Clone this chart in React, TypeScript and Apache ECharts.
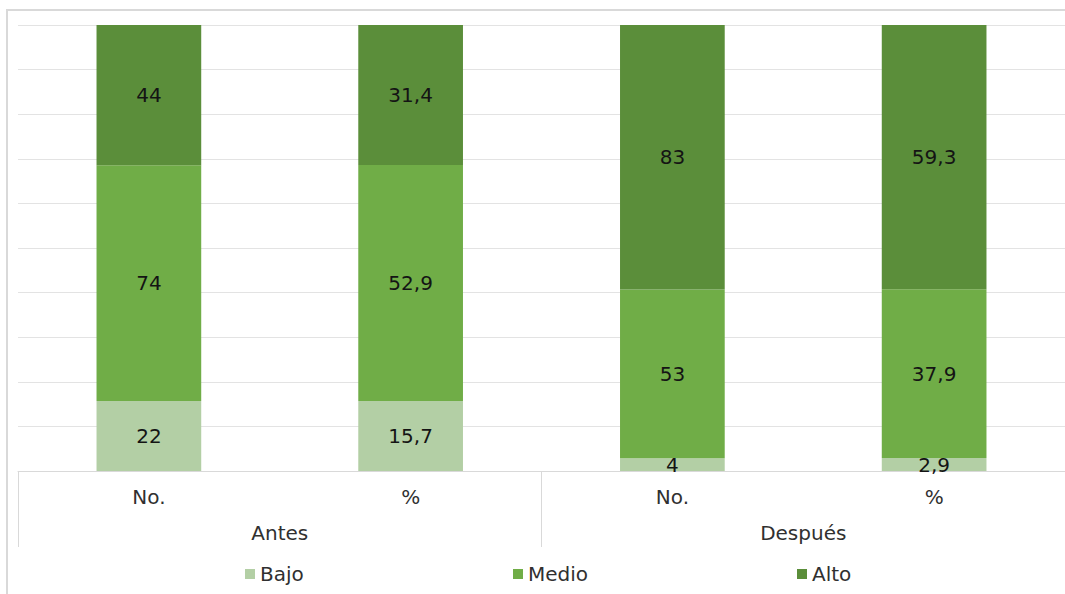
import React, { useEffect, useRef } from "react";
import * as echarts from "echarts";

const categories = ["No.", "%", "No.", "%"];
const groups = ["Antes", "Después"];
const bajo = [22, 15.7, 4, 2.9];
const medio = [74, 52.9, 53, 37.9];
const alto = [44, 31.4, 83, 59.3];
const seriesNames = ["Bajo", "Medio", "Alto"];
const colors = ["#b3cfa5", "#70ad47", "#5b8e3a"];

const FONT = "DejaVu Sans, Verdana, sans-serif";

export default function App() {
  const ref = useRef<HTMLDivElement>(null);
  useEffect(() => {
    if (!ref.current) return;
    const chart = echarts.init(ref.current, undefined, { renderer: "svg" });
    const raw = [bajo, medio, alto];
    const totals = categories.map((_, i) => bajo[i] + medio[i] + alto[i]);
    const fmt = (v: number) => String(v).replace(".", ",");
    const legendLefts = [240, 508, 792];
    chart.setOption({
      animation: false,
      textStyle: { fontFamily: FONT },
      graphic: [
        {
          type: "rect",
          shape: { x: 7, y: 10, width: 1080, height: 620 },
          style: { fill: "none", stroke: "#d9d9d9", lineWidth: 2 },
          silent: true,
        },
      ],
      grid: { left: 18, right: -3, top: 25, bottom: 123, containLabel: false },
      legend: seriesNames.map((n, i) => ({
        data: [n],
        left: legendLefts[i],
        top: 559,
        itemWidth: 10,
        itemHeight: 10,
        icon: "rect",
        textStyle: { fontFamily: FONT, fontSize: 20, color: "#303030" },
      })),
      xAxis: [
        {
          type: "category",
          data: categories,
          axisLine: { lineStyle: { color: "#d9d9d9", width: 1 } },
          axisTick: { show: false },
          axisLabel: { margin: 16, fontSize: 20, color: "#303030", fontFamily: FONT },
        },
        {
          type: "category",
          data: groups,
          position: "bottom",
          axisLine: { show: false },
          axisTick: { show: true, length: 76, lineStyle: { color: "#d9d9d9" } },
          axisLabel: { margin: 52, fontSize: 20, color: "#303030", fontFamily: FONT },
          splitLine: { show: false },
        },
      ],
      yAxis: {
        type: "value",
        min: 0,
        max: 100,
        interval: 10,
        axisLabel: { show: false },
        axisLine: { show: false },
        axisTick: { show: false },
        splitLine: { lineStyle: { color: "#e3e3e3", width: 1 } },
      },
      series: seriesNames.map((n, si) => ({
        name: n,
        type: "bar",
        stack: "total",
        xAxisIndex: 0,
        barWidth: "40%",
        itemStyle: { color: colors[si] },
        label: {
          show: true,
          position: "inside",
          fontSize: 20,
          color: "#141414",
          fontFamily: FONT,
          formatter: (p: any) => fmt(raw[si][p.dataIndex]),
        },
        data: raw[si].map((v, i) => (v / totals[i]) * 100),
      })),
    });
    return () => chart.dispose();
  }, []);
  return (
    <div
      ref={ref}
      style={{ position: "fixed", left: 0, top: 0, width: 1065, height: 594, background: "#fff" }}
    />
  );
}
